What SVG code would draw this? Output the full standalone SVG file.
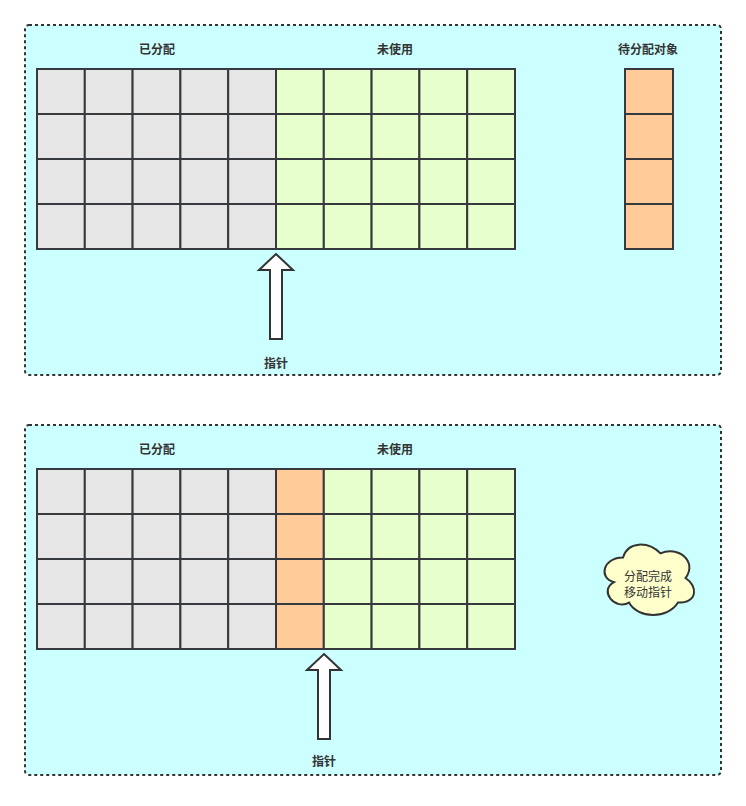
<svg xmlns="http://www.w3.org/2000/svg" width="746" height="806" viewBox="0 0 746 806">
<style>
.panel{fill:#CCFFFF;stroke:#333333;stroke-width:2;stroke-dasharray:3 3}
.g{fill:#E6E6E6;stroke:#36393D;stroke-width:2}
.n{fill:#E6FFCC;stroke:#36393D;stroke-width:2}
.o{fill:#FFCC99;stroke:#36393D;stroke-width:2}
.lbl{font-family:"Liberation Sans","Noto Sans CJK SC",sans-serif;font-size:12px;font-weight:bold;fill:#333333;text-anchor:middle}
.txt{font-family:"Liberation Sans","Noto Sans CJK SC",sans-serif;font-size:12px;fill:#333333;text-anchor:middle}
.arrow{fill:#FFFFFF;stroke:#333333;stroke-width:2;stroke-linejoin:miter}
.cloud{fill:#FFFFCC;stroke:#333333;stroke-width:2}
</style>
<defs>
<g id="row5g"><rect class="g" x="0" y="0" width="47.8" height="45"/><rect class="g" x="47.8" y="0" width="47.8" height="45"/><rect class="g" x="95.6" y="0" width="47.8" height="45"/><rect class="g" x="143.4" y="0" width="47.8" height="45"/><rect class="g" x="191.2" y="0" width="47.8" height="45"/></g>
<g id="row5n"><rect class="n" x="0" y="0" width="47.8" height="45"/><rect class="n" x="47.8" y="0" width="47.8" height="45"/><rect class="n" x="95.6" y="0" width="47.8" height="45"/><rect class="n" x="143.4" y="0" width="47.8" height="45"/><rect class="n" x="191.2" y="0" width="47.8" height="45"/></g>
<g id="row4n"><rect class="n" x="0" y="0" width="47.8" height="45"/><rect class="n" x="47.8" y="0" width="47.8" height="45"/><rect class="n" x="95.6" y="0" width="47.8" height="45"/><rect class="n" x="143.4" y="0" width="47.8" height="45"/></g>
</defs>

<g id="panel1"><rect class="panel" x="25" y="25" width="696" height="350" rx="4"/></g>
<g id="panel2"><rect class="panel" x="25" y="425" width="696" height="350" rx="4"/></g>

<g id="allocated1">
<use href="#row5g" x="37" y="69"/><use href="#row5g" x="37" y="114"/><use href="#row5g" x="37" y="159"/><use href="#row5g" x="37" y="204"/>
</g>
<g id="unused1">
<use href="#row5n" x="276" y="69"/><use href="#row5n" x="276" y="114"/><use href="#row5n" x="276" y="159"/><use href="#row5n" x="276" y="204"/>
</g>
<g id="pending">
<rect class="o" x="625" y="69" width="48" height="45"/><rect class="o" x="625" y="114" width="48" height="45"/><rect class="o" x="625" y="159" width="48" height="45"/><rect class="o" x="625" y="204" width="48" height="45"/>
</g>
<g id="labels1">
<text class="lbl" x="157" y="54">已分配</text>
<text class="lbl" x="395" y="54">未使用</text>
<text class="lbl" x="648" y="54">待分配对象</text>
</g>

<g id="allocated2">
<use href="#row5g" x="37" y="469"/><use href="#row5g" x="37" y="514"/><use href="#row5g" x="37" y="559"/><use href="#row5g" x="37" y="604"/>
</g>
<g id="newobj">
<rect class="o" x="276" y="469" width="47.8" height="45"/><rect class="o" x="276" y="514" width="47.8" height="45"/><rect class="o" x="276" y="559" width="47.8" height="45"/><rect class="o" x="276" y="604" width="47.8" height="45"/>
</g>
<g id="unused2">
<use href="#row4n" x="323.8" y="469"/><use href="#row4n" x="323.8" y="514"/><use href="#row4n" x="323.8" y="559"/><use href="#row4n" x="323.8" y="604"/>
</g>
<g id="labels2">
<text class="lbl" x="157" y="454">已分配</text>
<text class="lbl" x="395" y="454">未使用</text>
</g>

<g id="pointer1">
<path class="arrow" d="M276 254 L293 270 L282 270 L282 339 L270 339 L270 270 L259 270 Z"/>
<text class="lbl" x="276" y="368">指针</text>
</g>
<g id="pointer2">
<path class="arrow" d="M324 654 L341 670 L330 670 L330 739 L318 739 L318 670 L307 670 Z"/>
<text class="lbl" x="324" y="766">指针</text>
</g>

<g id="note">
<path class="cloud" d="M623 557.5 C603 557.5 598 578 614 582.1 C598 591.1 616 610.8 629 602.6 C638 619 668 619 678 602.6 C698 602.6 698 586.2 685.5 578 C698 561.6 678 545.2 660.5 553.4 C648 541.1 628 541.1 623 557.5 Z"/>
<text class="txt" x="648" y="581">分配完成</text>
<text class="txt" x="648" y="597">移动指针</text>
</g>
</svg>
